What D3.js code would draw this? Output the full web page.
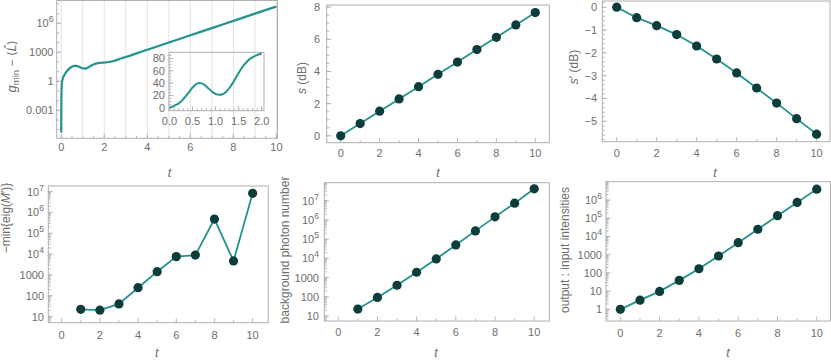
<!DOCTYPE html>
<html><head><meta charset="utf-8">
<script src="https://cdn.jsdelivr.net/npm/d3@7"></script>
<style>
body{margin:0;background:#fff}
svg{display:block}
text{font-family:"Liberation Sans",Arial,sans-serif}
</style>
</head><body>
<svg id="c" width="831" height="360"></svg>
<script>
// ---------- data ----------
const curveT = [0,0.003,0.006,0.01,0.015,0.02,0.03,0.05,0.08,0.12,0.16,0.2,0.25,0.3,0.35,0.4,0.45,0.5,0.55,0.6,0.65,0.7,0.75,0.8,0.85,0.9,0.95,1.0,1.05,1.1,1.15,1.2,1.25,1.3,1.35,1.4,1.45,1.5,1.55,1.6,1.65,1.7,1.75,1.8,1.85,1.9,1.95,2.0,2.1,2.2,2.3,2.4,2.5,2.6,2.7,2.8,2.9,3.0,3.5,4,5,6,7,8,9,10];
const curveG = [5e-6,1e-4,0.002,0.02,0.1,0.25,0.6,1.2,2.2,3.6,5.2,7,10,14,18.5,23,28,32.5,36.5,39,40,39.5,37.5,34.5,31,27.5,24.5,22.5,21.3,21,21.8,24,27.5,32,37.5,43.5,50,56.5,62.5,68,72.5,76.5,79.5,82,84,85.5,87,88.5,93,100,110,121,140,165,200,240,285,330,780,1850,1.03e4,5.8e4,3.2e5,1.8e6,1.0e7,5.5e7];

const tSteps = [0,1,2,3,4,5,6,7,8,9,10];
const sDB = [0,0.76,1.53,2.29,3.05,3.82,4.58,5.36,6.12,6.89,7.66];
const sPrimeDB = [0,-0.46,-0.81,-1.2,-1.7,-2.27,-2.88,-3.54,-4.2,-4.88,-5.56];
const tEig = [1,2,3,4,5,6,7,8,9,10];
const minEig = [22.5,20.5,41,245,1440,7600,9000,4.8e5,4700,8.3e6];
const tBg = [1,2,3,4,5,6,7,8,9,10];
const bgPhotons = [23,93,400,1900,9400,5.0e4,2.7e5,1.45e6,7.5e6,4.2e7];
const gainRatio = [1.0,3.2,9.7,39,170,850,4600,2.5e4,1.4e5,7.4e5,4.0e6];

const xTickEven = [0,2,4,6,8,10];
const insetXTicks = [0,0.5,1,1.5,2];
const insetYTicks = [0,20,40,60,80];
const p1YTicks = [1e-3,1,1e3,1e6];
const p2YTicks = [0,2,4,6,8];
const p3YTicks = [0,-1,-2,-3,-4,-5];
const p4YTicks = [10,100,1000,1e4,1e5,1e6,1e7];
const p5YTicks = [10,100,1000,1e4,1e5,1e6,1e7];
const p6YTicks = [1,10,100,1000,1e4,1e5,1e6];

// ---------- style ----------
const LINE = "#23938d", DOT = "#0c3d3b", FRAME = "#b0b0b0", TXT = "#6e6e6e", GRID = "#e3e3e3";
const FS = 11;
const svg = d3.select("#c");

function logLabel(sel, v){
  const e = Math.round(Math.log10(v));
  if (e >= 4) { sel.append("tspan").text("10"); sel.append("tspan").attr("dy",-5).attr("font-size",FS*0.78).text(e); }
  else if (e >= 0) sel.text(String(Math.pow(10,e)));
  else sel.text(String(Number(Math.pow(10,e).toFixed(-e))));
}
function fmtLin(v){ return v<0 ? "\u2212"+Math.abs(v) : String(v); }

function panel(o){
  const g = svg.append("g");
  const x = d3.scaleLinear().domain(o.xd).range([o.box[0], o.box[1]]);
  const y = (o.log ? d3.scaleLog() : d3.scaleLinear()).domain(o.yd).range([o.box[3], o.box[2]]);
  const [x0,x1,y0,y1] = o.box;
  if (o.grid) o.grid.forEach(v => g.append("line").attr("x1",x(v)).attr("x2",x(v)).attr("y1",y0).attr("y2",y1).attr("stroke",GRID).attr("stroke-width",1));
  // ticks
  const tk = (xx1,yy1,xx2,yy2) => g.append("line").attr("x1",xx1).attr("y1",yy1).attr("x2",xx2).attr("y2",yy2).attr("stroke",FRAME).attr("stroke-width",0.9);
  o.xMinor.forEach(v => tk(x(v),y1,x(v),y1-2.5));
  o.xMajor.forEach(v => tk(x(v),y1,x(v),y1-4.5));
  o.yMinor.forEach(v => tk(x0,y(v),x0+2.5,y(v)));
  o.yMajor.forEach(v => tk(x0,y(v),x0+4.5,y(v)));
  g.append("rect").attr("x",x0).attr("y",y0).attr("width",x1-x0).attr("height",y1-y0).attr("fill","none").attr("stroke",FRAME).attr("stroke-width",1);
  // tick labels
  o.xMajor.forEach(v => g.append("text").attr("x",x(v)).attr("y",o.xLabY).attr("text-anchor","middle").attr("font-size",o.fs||FS).attr("fill",TXT).text(o.xfmt? o.xfmt(v): v));
  o.yMajor.forEach(v => {
    const t = g.append("text").attr("x",o.yLabX).attr("y",y(v)+ (o.fs||FS)*0.36).attr("text-anchor","end").attr("font-size",o.fs||FS).attr("fill",TXT);
    if (o.log) logLabel(t,v); else t.text(fmtLin(v));
  });
  return {g,x,y};
}

const lineGen = (x,y,curve) => d3.line().x(d=>x(d[0])).y(d=>y(d[1])).curve(curve||d3.curveLinear);

function dots(p, ts, vs){
  const data = ts.map((t,i)=>[t,vs[i]]);
  p.g.append("path").datum(data).attr("d",lineGen(p.x,p.y)).attr("fill","none").attr("stroke",LINE).attr("stroke-width",1.8);
  p.g.selectAll("circle.d").data(data).enter().append("circle").attr("cx",d=>p.x(d[0])).attr("cy",d=>p.y(d[1])).attr("r",4.6).attr("fill",DOT);
}

function xTitle(x,y){ svg.append("text").attr("x",x).attr("y",y).attr("text-anchor","middle").attr("font-size",12.5).attr("font-style","italic").attr("fill",TXT).text("t"); }
function yTitle(x,y,build){ const t = svg.append("text").attr("transform",`translate(${x},${y}) rotate(-90)`).attr("text-anchor","middle").attr("font-size",12).attr("fill",TXT); build(t); }

const halfs = d3.range(0,10.01,0.5), odds = [1,3,5,7,9];
const decades = (a,b)=>d3.range(a,b+1).map(e=>Math.pow(10,e));
const subDecades = (a,b)=>{ const r=[]; for(let e=a;e<=b;e++) for(let k=1;k<10;k++) r.push(k*Math.pow(10,e)); return r; };

// ---------- panel 1 ----------
const p1 = panel({box:[56.7,277.5,0.5,138.3], xd:[-0.21,10.05], yd:[Math.pow(10,-5.89),Math.pow(10,8.36)], log:true,
  grid:tSteps, xMajor:xTickEven, xMinor:halfs, yMajor:p1YTicks, yMinor:decades(-5,8), xLabY:151, yLabX:53.5});
p1.g.append("path").datum(curveT.map((t,i)=>[t,curveG[i]])).attr("d",lineGen(p1.x,p1.y,d3.curveMonotoneX)).attr("fill","none").attr("stroke",LINE).attr("stroke-width",2.2);
xTitle(169.5,177);
yTitle(16,66,t=>{
  t.append("tspan").attr("font-style","italic").attr("font-size",13).text("g");
  t.append("tspan").attr("dy",3).attr("font-size",9.5).text("min");
  t.append("tspan").attr("dy",-3).text(" \u2212 \u27E8");
  t.append("tspan").attr("font-style","italic").text("L\u0302");
  t.append("tspan").text("\u27E9");
});
// inset
const pi = panel({box:[169,264,52.3,110.7], xd:[-0.01,2.05], yd:[-4.9,90.1], log:false, fs:11,
  xMajor:insetXTicks, xMinor:d3.range(0,2.01,0.1), yMajor:insetYTicks, yMinor:d3.range(0,90,5), xLabY:125, yLabX:165,
  xfmt:v=>v.toFixed(1)});
const insetData = curveT.map((t,i)=>[t,curveG[i]]).filter(d=>d[0]<=2.0001);
pi.g.append("path").datum(insetData).attr("d",lineGen(pi.x,pi.y,d3.curveMonotoneX)).attr("fill","none").attr("stroke",LINE).attr("stroke-width",2);

// ---------- panel 2 ----------
const p2 = panel({box:[326.7,549.3,5,142.7], xd:[-0.72,10.72], yd:[-0.43,8.13],
  xMajor:xTickEven, xMinor:odds, yMajor:p2YTicks, yMinor:d3.range(0,8.01,0.5), xLabY:157, yLabX:320});
dots(p2, tSteps, sDB);
xTitle(438,177);
yTitle(306,78,t=>{ t.append("tspan").attr("font-style","italic").text("s"); t.append("tspan").text(" (dB)"); });

// ---------- panel 3 ----------
const p3 = panel({box:[602.3,830,1,141.7], xd:[-0.72,10.67], yd:[-5.89,0.27],
  xMajor:xTickEven, xMinor:odds, yMajor:p3YTicks, yMinor:d3.range(-5.8,0.21,0.2), xLabY:157, yLabX:597});
dots(p3, tSteps, sPrimeDB);
xTitle(715,177);
yTitle(578,67,t=>{ t.append("tspan").attr("font-style","italic").text("s"); t.append("tspan").text("\u2032 (dB)"); });

// ---------- panel 4 ----------
const p4 = panel({box:[48.3,268.3,186,322.7], xd:[-0.7,10.82], yd:[Math.pow(10,0.71),Math.pow(10,7.27)], log:true,
  xMajor:xTickEven, xMinor:odds, yMajor:p4YTicks, yMinor:subDecades(0,7).filter(v=>v>=5.2&&v<=1.8e7), xLabY:339, yLabX:44});
dots(p4, tEig, minEig);
xTitle(156.7,357);
yTitle(10,218,t=>{
  t.append("tspan").text("\u2212min{eig(");
  t.append("tspan").attr("font-style","italic").text("M");
  t.append("tspan").text("\u2032)}");
});

// ---------- panel 5 ----------
const p5 = panel({box:[324.3,549.3,182.7,321], xd:[-0.71,10.77], yd:[Math.pow(10,0.74),Math.pow(10,7.94)], log:true,
  xMajor:xTickEven, xMinor:odds, yMajor:p5YTicks, yMinor:subDecades(0,7).filter(v=>v>=5.5&&v<=8.7e7), xLabY:336, yLabX:319});
dots(p5, tBg, bgPhotons);
xTitle(436,357);
yTitle(289,250,t=>t.text("background photon number"));

// ---------- panel 6 ----------
const p6 = panel({box:[606,830.5,181.7,321], xd:[-0.73,10.70], yd:[Math.pow(10,-0.64),Math.pow(10,7.01)], log:true,
  xMajor:xTickEven, xMinor:odds, yMajor:p6YTicks, yMinor:subDecades(-1,7).filter(v=>v>=0.23&&v<=1.02e7), xLabY:337, yLabX:602});
dots(p6, tSteps, gainRatio);
xTitle(728,357);
yTitle(569,250,t=>t.text("output : input intensities"));
</script>
</body></html>
